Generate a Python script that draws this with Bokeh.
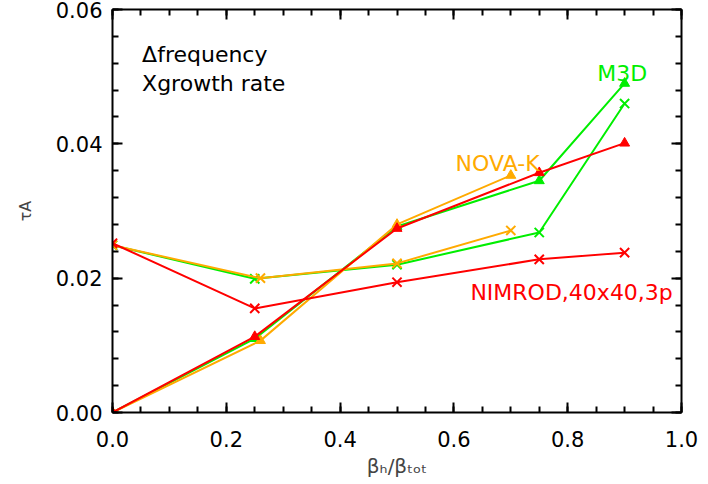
from bokeh.plotting import figure
from bokeh.models import LinearAxis, Range1d, Label, FixedTicker, CustomJSTickFormatter
from bokeh.embed import file_html
from bokeh.resources import INLINE

# ---- data ----
x_nova = [0.0, 0.26, 0.5, 0.7]
nova_freq = [0.0, 0.0107, 0.0280, 0.0353]
nova_growth = [0.0249, 0.0200, 0.0222, 0.0271]

x_m3d = [0.0, 0.25, 0.5, 0.75, 0.9]
m3d_freq = [0.0, 0.0110, 0.0277, 0.0345, 0.0490]
m3d_growth = [0.0249, 0.0199, 0.0220, 0.0268, 0.0460]

x_nimrod = [0.0, 0.25, 0.5, 0.75, 0.9]
nimrod_freq = [0.0, 0.0113, 0.0274, 0.0357, 0.0401]
nimrod_growth = [0.0252, 0.0155, 0.0194, 0.0228, 0.0238]

x_ticks = [0.0, 0.2, 0.4, 0.6, 0.8, 1.0]
x_tick_labels = ["0.0", "0.2", "0.4", "0.6", "0.8", "1.0"]
y_ticks = [0.0, 0.02, 0.04, 0.06]
y_tick_labels = ["0.00", "0.02", "0.04", "0.06"]

GREEN = "#00ee00"
ORANGE = "#ffaa00"
RED = "#ff0000"
FONT = "DejaVu Sans"

p = figure(width=700, height=484, output_backend="svg", toolbar_location=None,
           x_range=Range1d(0, 1.0), y_range=Range1d(0, 0.06),
           min_border_left=112, min_border_right=19, min_border_top=9, min_border_bottom=72,
           background_fill_color="white", border_fill_color="white")
p.outline_line_color = None
p.grid.visible = False

x_minor = [i * 0.05 for i in range(21)]
y_minor = [i * 0.004 for i in range(16)]

def style_axis(ax, ticks, minor, labels, show_labels):
    ax.ticker = FixedTicker(ticks=ticks, minor_ticks=minor)
    ax.axis_line_width = 2
    ax.axis_line_color = "black"
    ax.major_tick_in = 10
    ax.major_tick_out = 0
    ax.minor_tick_in = 6
    ax.minor_tick_out = 0
    ax.major_tick_line_width = 2
    ax.minor_tick_line_width = 2
    ax.major_label_text_font = FONT
    ax.major_label_text_font_size = "21px"
    ax.major_label_text_color = "black"
    if show_labels:
        ax.major_label_overrides = {t: l for t, l in zip(ticks, labels)}
    else:
        ax.formatter = CustomJSTickFormatter(code="return ''")
        ax.major_label_text_font_size = "0px"
        ax.major_label_standoff = 0

bottom = p.xaxis[0]
left = p.yaxis[0]
style_axis(bottom, x_ticks, x_minor, x_tick_labels, True)
style_axis(left, y_ticks, y_minor, y_tick_labels, True)

top = LinearAxis()
style_axis(top, x_ticks, x_minor, x_tick_labels, False)
p.add_layout(top, "above")
right = LinearAxis()
style_axis(right, y_ticks, y_minor, y_tick_labels, False)
p.add_layout(right, "right")

bottom.major_label_standoff = 18
left.major_label_standoff = 10
bottom.axis_label = "βₕ/βₜₒₜ"
bottom.axis_label_text_font = FONT
bottom.axis_label_text_font_style = "normal"
bottom.axis_label_text_font_size = "20px"
bottom.axis_label_standoff = 4
left.axis_label = "τA"
left.axis_label_text_font = FONT
left.axis_label_text_font_style = "normal"
left.axis_label_text_font_size = "16px"
left.axis_label_standoff = 18

LW = 2
# M3D (green)
p.line(x_m3d, m3d_freq, line_color=GREEN, line_width=LW)
p.scatter(x_m3d, m3d_freq, marker="triangle", size=10, fill_color=GREEN, line_color=GREEN)
p.line(x_m3d, m3d_growth, line_color=GREEN, line_width=LW)
p.scatter(x_m3d, m3d_growth, marker="x", size=13, line_color=GREEN, line_width=2)
# NOVA-K (orange)
p.line(x_nova, nova_freq, line_color=ORANGE, line_width=LW)
p.scatter(x_nova, nova_freq, marker="triangle", size=10, fill_color=ORANGE, line_color=ORANGE)
p.line(x_nova, nova_growth, line_color=ORANGE, line_width=LW)
p.scatter(x_nova, nova_growth, marker="x", size=13, line_color=ORANGE, line_width=2)
# NIMROD (red)
p.line(x_nimrod, nimrod_freq, line_color=RED, line_width=LW)
p.scatter(x_nimrod, nimrod_freq, marker="triangle", size=10, fill_color=RED, line_color=RED)
p.line(x_nimrod, nimrod_growth, line_color=RED, line_width=LW)
p.scatter(x_nimrod, nimrod_growth, marker="x", size=13, line_color=RED, line_width=2)

def lab(x, y, text, color, size="22px"):
    p.add_layout(Label(x=x, y=y, text=text, text_color=color, text_font=FONT,
                       text_font_size=size, text_align="left", text_baseline="alphabetic"))

lab(0.052, 0.0533, "Δfrequency", "black")
lab(0.052, 0.0490, "Xgrowth rate", "black")
lab(0.852, 0.0504, "M3D", GREEN)
lab(0.603, 0.0370, "NOVA-K", ORANGE)
lab(0.629, 0.0179, "NIMROD,40x40,3p", RED)

open("out.html", "w").write(file_html(p, INLINE))
